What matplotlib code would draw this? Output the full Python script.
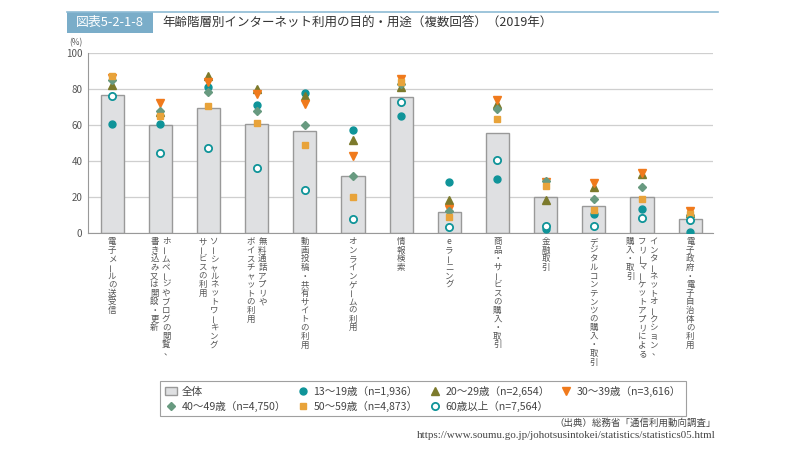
import matplotlib
matplotlib.use('Agg')
import matplotlib.pyplot as plt
from matplotlib.patches import Rectangle, Patch
from matplotlib.lines import Line2D

plt.rcParams['font.family'] = ['Noto Sans CJK JP', 'DejaVu Sans']

# ラベル（縦書き、列は右から左）
labels = [
    ['電子メールの送受信'],
    ['ホームページやブログの閲覧、', '書き込み又は開設・更新'],
    ['ソーシャルネットワーキング', 'サービスの利用'],
    ['無料通話アプリや', 'ボイスチャットの利用'],
    ['動画投稿・共有サイトの利用'],
    ['オンラインゲームの利用'],
    ['情報検索'],
    ['eラーニング'],
    ['商品・サービスの購入・取引'],
    ['金融取引'],
    ['デジタルコンテンツの購入・取引'],
    ['インターネットオークション、', 'フリーマーケットアプリによる', '購入・取引'],
    ['電子政府・電子自治体の利用'],
]

total = [76.8, 60.1, 69.2, 60.2, 56.4, 31.4, 75.6, 11.7, 55.6, 19.8, 15.0, 20.0, 7.6]
age13 = [60.2, 60.2, 81.0, 71.0, 77.8, 57.3, 64.9, 28.3, 29.8, 2.4, 10.4, 13.1, 0.6]
age20 = [82.0, 67.0, 87.0, 80.0, 76.0, 51.4, 80.8, 18.1, 71.7, 18.1, 25.5, 33.0, 11.0]
age30 = [86.0, 72.0, 83.5, 77.3, 71.7, 42.5, 85.6, 13.3, 73.9, 28.5, 27.9, 33.5, 12.0]
age40 = [84.8, 67.9, 78.4, 67.6, 59.7, 31.8, 82.4, 12.0, 69.0, 28.8, 19.1, 25.5, 9.8]
age50 = [87.2, 64.7, 70.6, 61.0, 49.0, 19.8, 83.5, 8.9, 63.0, 26.3, 12.6, 18.7, 10.7]
age60 = [76.0, 44.3, 47.1, 36.2, 23.7, 7.6, 72.6, 3.3, 40.3, 3.8, 3.7, 8.3, 7.0]

legend_names = ['全体', '13～19歳（n=1,936）', '20～29歳（n=2,654）', '30～39歳（n=3,616）',
                '40～49歳（n=4,750）', '50～59歳（n=4,873）', '60歳以上（n=7,564）']

teal = '#0f9499'
olive = '#7c7a2c'
orange = '#f07a1c'
green = '#689a80'
gold = '#e8a33a'
gray_txt = '#555555'

fig = plt.figure(figsize=(8, 4.5), dpi=100)
ax = fig.add_axes([0.11, 0.482, 0.781, 0.401])

x = list(range(len(total)))
ax.bar(x, total, width=0.48, color='#dfe0e2', edgecolor='#999999', linewidth=1.0, zorder=2)

series = [
    (age13, dict(marker='o', color=teal, markersize=5)),
    (age20, dict(marker='^', color=olive, markersize=5.5)),
    (age30, dict(marker='v', color=orange, markersize=5.5)),
    (age40, dict(marker='D', color=green, markersize=4.3)),
    (age50, dict(marker='s', color=gold, markersize=4.5)),
    (age60, dict(marker='o', color=teal, markerfacecolor='white', markeredgewidth=1.3, markersize=5.2)),
]
for vals, st in series:
    ax.plot(x, vals, linestyle='none', zorder=3, **st)

ax.set_xlim(-0.5, 12.47)
ax.set_ylim(0, 100)
ax.set_yticks([0, 20, 40, 60, 80, 100])
ax.yaxis.grid(True, color='#cfcfcf', linewidth=0.9, zorder=0)
ax.set_axisbelow(True)
for s in ['top', 'right']:
    ax.spines[s].set_visible(False)
ax.spines['left'].set_color('#999999')
ax.spines['bottom'].set_color('#999999')
ax.tick_params(axis='y', length=0, labelsize=7, labelcolor=gray_txt, pad=4)
ax.set_xticks(x)
ax.set_xticklabels([])
ax.tick_params(axis='x', length=0)
fig.text(0.087, 0.905, '(%)', fontsize=6, color=gray_txt, ha='left', va='center')

# 縦書きラベル
step = 6.2
col_gap = 8.4
for i, cols in enumerate(labels):
    n = len(cols)
    for c, col in enumerate(cols):
        dx = ((n - 1) / 2 - c) * col_gap
        for k, ch in enumerate(col):
            rot = 0
            ox = 0
            if ch == 'ー':
                rot = 90
            elif ch == '、':
                ox = 1.5
            ax.annotate(ch, xy=(i, 0), xycoords=('data', 'axes fraction'),
                        xytext=(dx + ox, -3 - (k + 0.5) * step), textcoords='offset points',
                        ha='center', va='center', rotation=rot, fontsize=6.1,
                        color=gray_txt, annotation_clip=False)

# タイトル
fig.add_artist(Rectangle((67 / 800, 1 - 33 / 450), 86 / 800, 21 / 450,
                         transform=fig.transFigure, facecolor='#7aadc9', edgecolor='none'))
fig.add_artist(Line2D([67 / 800, 718 / 800], [1 - 12 / 450, 1 - 12 / 450],
                      transform=fig.transFigure, color='#8dbbd4', linewidth=1.2))
fig.text(110 / 800, 1 - 22.5 / 450, '図表5-2-1-8', color='white', fontsize=9.3,
         ha='center', va='center')
fig.text(162 / 800, 1 - 22.5 / 450, '年齢階層別インターネット利用の目的・用途（複数回答）（2019年）',
         color='#333333', fontsize=9, ha='left', va='center')

# 凡例
handles = [
    Patch(facecolor='#dfe0e2', edgecolor='#999999'),
    Line2D([], [], linestyle='none', marker='o', color=teal, markersize=5),
    Line2D([], [], linestyle='none', marker='^', color=olive, markersize=5.5),
    Line2D([], [], linestyle='none', marker='v', color=orange, markersize=5.5),
    Line2D([], [], linestyle='none', marker='D', color=green, markersize=4.3),
    Line2D([], [], linestyle='none', marker='s', color=gold, markersize=4.5),
    Line2D([], [], linestyle='none', marker='o', color=teal, markerfacecolor='white',
           markeredgewidth=1.3, markersize=5.2),
]
order = [0, 4, 1, 5, 2, 6, 3]
leg = fig.legend([handles[j] for j in order], [legend_names[j] for j in order],
                 ncol=4, loc='upper left', bbox_to_anchor=(160 / 800, 1 - 381 / 450),
                 borderaxespad=0, fontsize=7.6, frameon=True, fancybox=False,
                 handlelength=1.2, handletextpad=0.4, columnspacing=1.0,
                 labelspacing=0.35, borderpad=0.45)
leg.get_frame().set_edgecolor('#888888')
leg.get_frame().set_linewidth(0.8)
for t in leg.get_texts():
    t.set_color('#444444')

fig.text(716 / 800, 1 - 423 / 450, '（出典）総務省「通信利用動向調査」', fontsize=6.8,
         color='#444444', ha='right', va='center')
fig.text(716 / 800, 1 - 436 / 450,
         'https://www.soumu.go.jp/johotsusintokei/statistics/statistics05.html',
         fontsize=7.9, family='Liberation Serif', color='#444444', ha='right', va='center')

fig.savefig('out.png', dpi=100, facecolor='white')
